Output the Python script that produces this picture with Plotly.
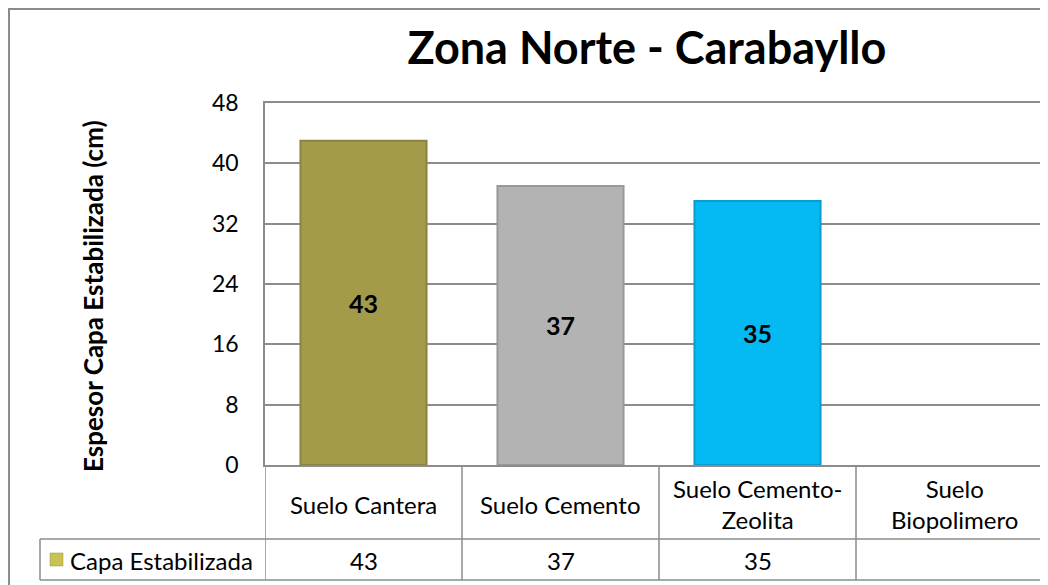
import plotly.graph_objects as go

# data
categories = ["Suelo Cantera", "Suelo Cemento", "Suelo Cemento-Zeolita", "Suelo Biopolimero"]
header_labels = ["Suelo Cantera", "Suelo Cemento", "Suelo Cemento-<br>Zeolita", "Suelo<br>Biopolimero"]
values = [43, 37, 35, None]
series_name = "Capa Estabilizada"
y_ticks = [0, 8, 16, 24, 32, 40, 48]

bar_colors = ["#A39B4A", "#B3B3B3", "#05B9F2", "#FFFFFF"]
edge_colors = ["#8A8440", "#999999", "#0A9DCF", "#FFFFFF"]
font = "Lato"

# page has an 8px body margin, so the figure is a bit smaller than the window
W, H = 1040, 577
left, top, bottom = 257, 95, 457
plot_h = bottom - top


def py(pix):
    # pixel row -> paper y
    return (bottom - pix) / plot_h


def px(pix):
    return (pix - left) / (W - left)


fig = go.Figure(go.Bar(
    x=categories, y=values, name=series_name,
    width=0.64,
    marker=dict(color=bar_colors, line=dict(color=edge_colors, width=2)),
    text=[str(v) if v is not None else "" for v in values],
    textposition="inside", insidetextanchor="middle",
    textfont=dict(family=font, size=25, color="black", weight="bold"),
    showlegend=False,
))

shapes = []
line_col = "#8C8C8C"
# outer chart border
shapes.append(dict(type="rect", xref="paper", yref="paper",
                   x0=px(1), x1=px(1100), y0=py(1), y1=py(700),
                   line=dict(color=line_col, width=2), layer="below"))
# table horizontal lines
for yy in [531, 572]:
    shapes.append(dict(type="line", xref="paper", yref="paper",
                       x0=px(32), x1=1.02, y0=py(yy), y1=py(yy),
                       line=dict(color=line_col, width=1.5)))
# table vertical lines at category boundaries
for i in range(len(categories)):
    shapes.append(dict(type="line", xref="x", yref="paper",
                       x0=i - 0.5, x1=i - 0.5, y0=0, y1=py(572),
                       line=dict(color=line_col, width=1.5)))
shapes.append(dict(type="line", xref="paper", yref="paper",
                   x0=px(32), x1=px(32), y0=py(531), y1=py(572),
                   line=dict(color=line_col, width=1.5)))
# legend key
shapes.append(dict(type="rect", xref="paper", yref="paper",
                   x0=px(42), x1=px(55), y0=py(545), y1=py(558),
                   line=dict(color="#9A9440", width=0.5), fillcolor="#C9C152"))

annotations = []
for i, lab in enumerate(header_labels):
    annotations.append(dict(x=categories[i], y=py(496), xref="x", yref="paper",
                            xanchor="center", yanchor="middle",
                            text=lab, showarrow=False,
                            font=dict(family=font, size=24, color="black")))
    v = values[i]
    annotations.append(dict(x=categories[i], y=py(552), xref="x", yref="paper",
                            xanchor="center", yanchor="middle",
                            text="" if v is None else str(v), showarrow=False,
                            font=dict(family=font, size=24, color="black")))
annotations.append(dict(x=px(60), y=py(552), xref="paper", yref="paper",
                        xanchor="left", yanchor="middle",
                        text=series_name, showarrow=False,
                        font=dict(family=font, size=24, color="black")))
annotations.append(dict(x=px(85), y=py(288), xref="paper", yref="paper",
                        xanchor="center", yanchor="middle",
                        text="Espesor Capa Estabilizada (cm)", textangle=-90,
                        showarrow=False,
                        font=dict(family=font, size=26, color="black", weight="bold")))

fig.update_layout(
    width=W, height=H,
    margin=dict(l=left, r=0, t=top, b=H - bottom, autoexpand=False),
    paper_bgcolor="white", plot_bgcolor="white",
    title=dict(text="Zona Norte - Carabayllo", x=639 / W, y=1 - 40 / H,
               xanchor="center", yanchor="middle",
               font=dict(family=font, size=45, color="black", weight="bold")),
    shapes=shapes, annotations=annotations,
)
fig.update_xaxes(range=[-0.5, -0.5 + (W - left) / 197], showticklabels=False,
                 showline=True, mirror=True, linecolor=line_col, linewidth=2,
                 showgrid=False, fixedrange=True)
fig.update_yaxes(range=[0, 48], tickvals=y_ticks, showline=True, linecolor=line_col,
                 linewidth=1.5, gridcolor=line_col, gridwidth=1.5, zeroline=False,
                 ticklabelstandoff=20,
                 tickfont=dict(family=font, size=23, color="black"), fixedrange=True)

fig.write_html("out.html")
